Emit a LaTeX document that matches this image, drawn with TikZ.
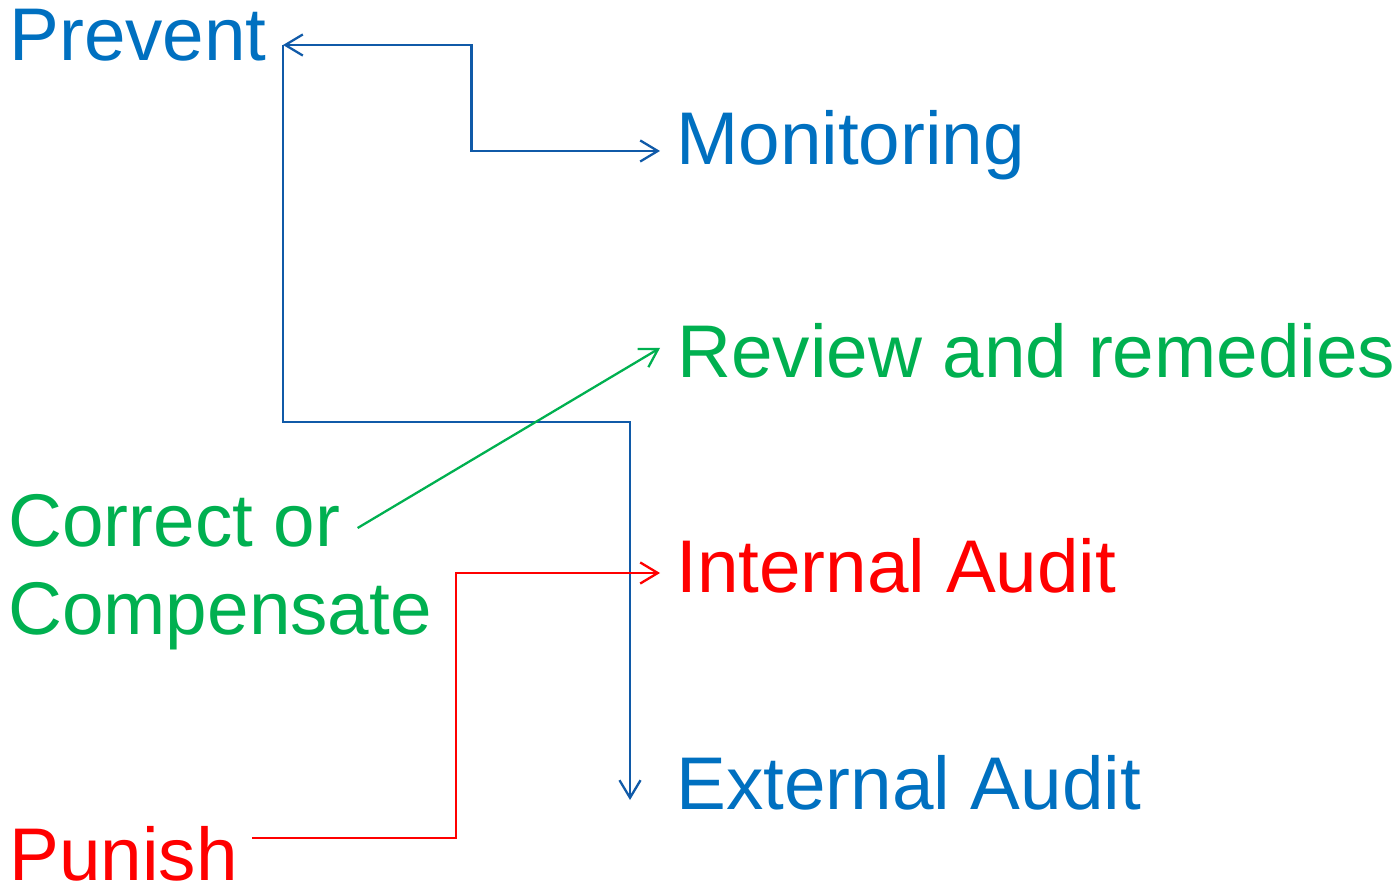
\documentclass[tikz,border=0pt]{standalone}
\usepackage{fontspec}
\setmainfont{Liberation Sans}
\usepackage{xcolor}
\usetikzlibrary{arrows.meta,calc}
\definecolor{txtblue}{RGB}{0,112,192}
\definecolor{lineblue}{RGB}{16,90,168}
\definecolor{txtgreen}{RGB}{0,176,80}
\definecolor{txtred}{RGB}{255,0,0}

\begin{document}
\begin{tikzpicture}[x=0.02cm,y=0.02cm,>={Straight Barb[length=10pt,width=12pt]},
    word/.style={anchor=base west,inner sep=0pt,font=\fontsize{42.5}{50}\selectfont},
    link/.style={line width=1.3pt}]
    \useasboundingbox (0,0) rectangle (1400,883);
    % left column
    \node [word,txtblue] (prevent) at (9,822) {Prevent};
    \node [word,txtgreen] (correct) at (8,336) {Correct or};
    \node [word,txtgreen] (compensate) at (8,248) {Compensate};
    \node [word,txtred] (punish) at (9,3) {Punish};
    % right column
    \node [word,txtblue] (monitoring) at (676,718) {Monitoring};
    \node [word,txtgreen] (review) at (677,505) {Review and remedies};
    \node [word,txtred] (internal) at (676,290) {Internal Audit};
    \node [word,txtblue] (external) at (676,74) {External Audit};
    % end points
    \coordinate (pv) at ($(prevent.base east)+(16,16)$);
    \coordinate (mo) at ($(monitoring.base west)+(-16,14)$);
    \coordinate (ex) at ($(external.base west)+(-46,9)$);
    \coordinate (co) at ($(correct.base east)+(17,19)$);
    \coordinate (re) at ($(review.base west)+(-17,30)$);
    \coordinate (pu) at ($(punish.base east)+(14,42)$);
    \coordinate (in) at ($(internal.base west)+(-16,20)$);
    % arrows
    \draw [link,lineblue,<->] (pv) -| ($(pv)!.5!(mo)$) |- (mo);
    \draw [link,lineblue,->] (pv) |- ($(ex)+(0,378)$) -- (ex);
    \draw [link,txtgreen,->] (co) -- (re);
    \draw [link,txtred,->] (pu) -| ($(pu)!.5!(in)$) |- (in);
\end{tikzpicture}
\end{document}
